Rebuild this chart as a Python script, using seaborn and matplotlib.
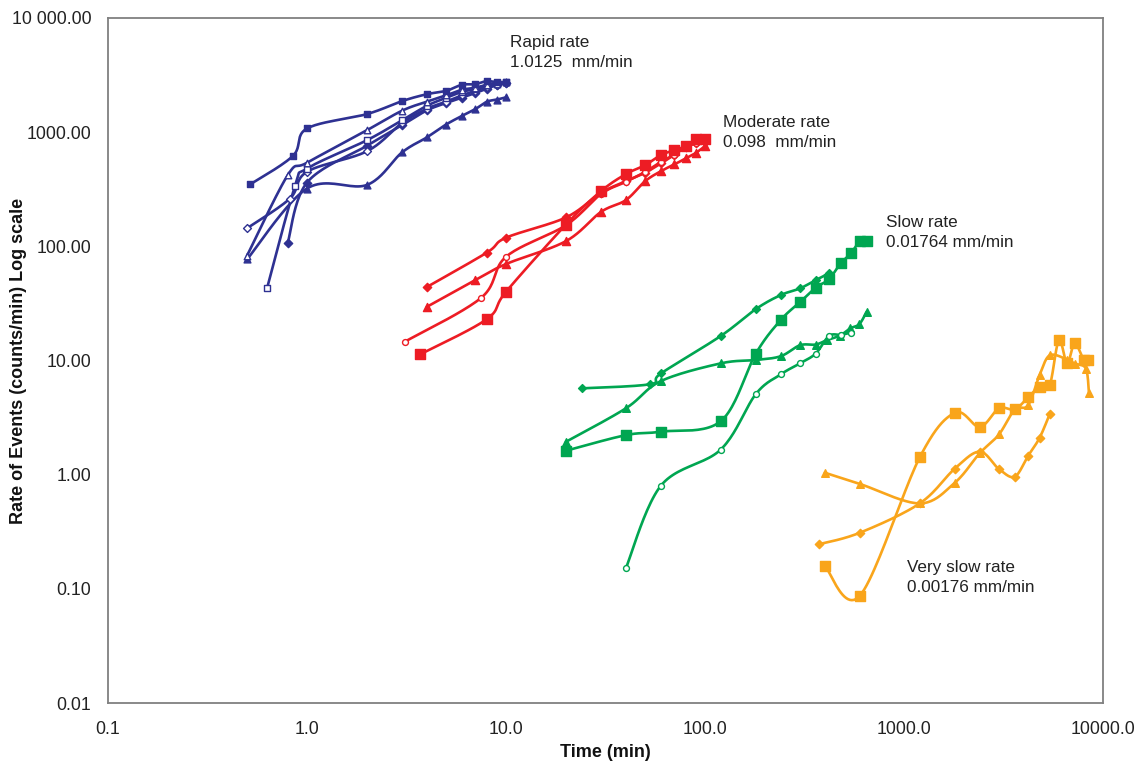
import numpy as np
import pandas as pd
import matplotlib
matplotlib.use("Agg")
import matplotlib.pyplot as plt
import seaborn as sns
from matplotlib.ticker import FixedLocator, FixedFormatter, NullLocator

# ---------------- data ----------------
# Rapid rate (blue)
b_sq_x = [0.52, 0.85, 1, 2, 3, 4, 5, 6, 7, 8, 9, 10]
b_sq_y = [350, 620, 1077, 1440, 1870, 2150, 2300, 2600, 2630, 2800, 2740, 2750]
b_otri_x = [0.5, 0.8, 1, 2, 3, 4, 5, 6, 7, 8, 9, 10]
b_otri_y = [83, 420, 540, 1040, 1540, 1850, 2100, 2350, 2450, 2600, 2650, 2760]
b_odia_x = [0.5, 0.82, 1, 2, 3, 4, 5, 6, 7, 8, 9, 10]
b_odia_y = [144, 262, 450, 680, 1200, 1600, 1850, 2100, 2300, 2500, 2600, 2700]
b_osq_x = [0.63, 0.87, 1, 2, 3, 4, 5, 6, 7, 8, 9, 10]
b_osq_y = [43, 336, 480, 850, 1270, 1700, 2000, 2250, 2400, 2600, 2700, 2750]
b_dia_x = [0.8, 1, 2, 3, 4, 5, 6, 7, 8, 9, 10]
b_dia_y = [107, 362, 760, 1150, 1550, 1800, 2000, 2200, 2400, 2600, 2700]
b_tri_x = [0.5, 1, 2, 3, 4, 5, 6, 7, 8, 9, 10]
b_tri_y = [77, 321, 345, 664, 900, 1167, 1387, 1590, 1846, 1930, 2018]

# Moderate rate (red)
r_dia_x = [4, 8, 10, 20, 30, 40, 50, 60, 70, 80, 90, 100]
r_dia_y = [44, 88, 119, 179, 294, 372, 441, 532, 629, 743, 796, 822]
r_tri_x = [4, 7, 10, 20, 30, 40, 50, 60, 70, 80, 90, 100]
r_tri_y = [29.5, 50.6, 70, 111, 200, 254, 372, 455, 521, 589, 659, 754]
r_odia_x = [3.1, 7.5, 10, 20, 30, 40, 50, 60, 70, 80, 90, 100]
r_odia_y = [14.6, 35.4, 81, 153, 287, 367, 449, 550, 635, 743, 800, 860]
r_sq_x = [3.7, 8, 10, 20, 30, 40, 50, 60, 70, 80, 90, 100]
r_sq_y = [11.3, 23, 40, 155, 304, 429, 514, 630, 695, 754, 863, 880]

# Slow rate (green)
g_dia_x = [24, 53, 60, 120, 180, 240, 300, 360, 420]
g_dia_y = [5.7, 6.2, 7.7, 16.4, 28.2, 37.4, 42.8, 50.6, 58]
g_tri_x = [20, 40, 60, 120, 180, 240, 300, 360, 410, 476, 536, 596, 649]
g_tri_y = [1.94, 3.81, 6.6, 9.44, 10.1, 10.9, 13.6, 13.8, 15.1, 16.5, 19.1, 20.8, 26.7]
g_sq_x = [20, 40, 60, 120, 180, 240, 300, 360, 420, 480, 540, 600, 650]
g_sq_y = [1.62, 2.22, 2.38, 2.94, 11.5, 22.6, 32.4, 43.4, 51.6, 70.8, 86.7, 111, 111]
g_odia_x = [40, 60, 120, 180, 240, 300, 360, 420, 480, 540]
g_odia_y = [0.151, 0.80, 1.66, 5.08, 7.55, 9.44, 11.5, 16.4, 16.8, 17.5]

# Very slow rate (orange)
o_tri_x = [400, 600, 1200, 1800, 2400, 3000, 3600, 4200, 4800, 5400, 6600, 7200, 8200, 8500]
o_tri_y = [1.04, 0.83, 0.56, 0.85, 1.54, 2.25, 3.73, 4.05, 7.45, 11.1, 10.2, 9.4, 8.5, 5.2]
o_sq_x = [400, 600, 1200, 1800, 2400, 3000, 3600, 4200, 4800, 5400, 6000, 6600, 7200, 8000, 8400]
o_sq_y = [0.159, 0.087, 1.42, 3.48, 2.62, 3.81, 3.73, 4.75, 5.89, 6.1, 15.1, 9.45, 14.1, 10.2, 10.2]
o_dia_x = [375, 600, 1200, 1800, 2400, 3000, 3600, 4200, 4800, 5400]
o_dia_y = [0.246, 0.31, 0.56, 1.13, 1.59, 1.12, 0.96, 1.46, 2.10, 3.40]

x_ticks = [0.1, 1, 10, 100, 1000, 10000]
x_tick_labels = ["0.1", "1.0", "10.0", "100.0", "1000.0", "10000.0"]
y_ticks = [0.01, 0.1, 1, 10, 100, 1000, 10000]
y_tick_labels = ["0.01", "0.10", "1.00", "10.00", "100.00", "1000.00", "10 000.00"]

group_labels = ["Rapid rate\n1.0125  mm/min", "Moderate rate\n0.098  mm/min",
                "Slow rate\n0.01764 mm/min", "Very slow rate\n0.00176 mm/min"]

# ---------------- style ----------------
BLUE, RED, GREEN, ORANGE = "#2E3192", "#ED1C24", "#00A651", "#F9A51B"
sns.set_style("white")
plt.rcParams["font.family"] = ["Liberation Sans", "DejaVu Sans"]

fig = plt.figure(figsize=(11.4, 7.69), dpi=100)
ax = fig.add_axes([108 / 1140, 1 - 703 / 769, (1103 - 108) / 1140, (703 - 18) / 769])


def smooth(xs, ys, n=24):
    """Excel-like smoothed line (Bezier through points) in log-log display space."""
    P = np.column_stack([np.log10(xs), np.log10(ys)])
    out = []
    t = np.linspace(0, 1, n)[:, None]
    for i in range(len(P) - 1):
        p0 = P[i - 1] if i > 0 else P[i]
        p1, p2 = P[i], P[i + 1]
        p3 = P[i + 2] if i + 2 < len(P) else P[i + 1]
        c1 = p1 + (p2 - p0) / 6.0
        c2 = p2 - (p3 - p1) / 6.0
        seg = (1 - t) ** 3 * p1 + 3 * (1 - t) ** 2 * t * c1 + 3 * (1 - t) * t ** 2 * c2 + t ** 3 * p2
        out.append(seg if i == 0 else seg[1:])
    c = np.vstack(out)
    return 10 ** c[:, 0], 10 ** c[:, 1]


def series(xs, ys, color, marker, size, filled=True, lw=1.9):
    cx, cy = smooth(xs, ys)
    sns.lineplot(x=cx, y=cy, sort=False, estimator=None, color=color, lw=lw, ax=ax, zorder=2)
    face = color if filled else "white"
    sns.scatterplot(x=xs, y=ys, marker=marker, s=size, color=face, edgecolor=color,
                    linewidth=1.0, ax=ax, zorder=3)


# blue
series(b_dia_x, b_dia_y, BLUE, "D", 18)
series(b_tri_x, b_tri_y, BLUE, "^", 24)
series(b_odia_x, b_odia_y, BLUE, "D", 16, filled=False)
series(b_osq_x, b_osq_y, BLUE, "s", 22, filled=False)
series(b_otri_x, b_otri_y, BLUE, "^", 22, filled=False)
series(b_sq_x, b_sq_y, BLUE, "s", 18)
# red
series(r_dia_x, r_dia_y, RED, "D", 18)
series(r_tri_x, r_tri_y, RED, "^", 34)
series(r_odia_x, r_odia_y, RED, "o", 18, filled=False)
series(r_sq_x, r_sq_y, RED, "s", 44)
# green
series(g_dia_x, g_dia_y, GREEN, "D", 16)
series(g_tri_x, g_tri_y, GREEN, "^", 30)
series(g_odia_x, g_odia_y, GREEN, "o", 18, filled=False)
series(g_sq_x, g_sq_y, GREEN, "s", 44)
# orange
series(o_dia_x, o_dia_y, ORANGE, "D", 18)
series(o_tri_x, o_tri_y, ORANGE, "^", 30)
series(o_sq_x, o_sq_y, ORANGE, "s", 44)

# ---------------- axes ----------------
ax.set_xscale("log")
ax.set_yscale("log")
ax.set_xlim(0.1, 10000)
ax.set_ylim(0.01, 10000)
ax.xaxis.set_major_locator(FixedLocator(x_ticks))
ax.xaxis.set_major_formatter(FixedFormatter(x_tick_labels))
ax.yaxis.set_major_locator(FixedLocator(y_ticks))
ax.yaxis.set_major_formatter(FixedFormatter(y_tick_labels))
ax.xaxis.set_minor_locator(NullLocator())
ax.yaxis.set_minor_locator(NullLocator())
ax.tick_params(axis="both", which="major", direction="out", length=5, width=1.2,
               color="#808080", labelcolor="#222222", labelsize=12.8, pad=7)
ax.tick_params(axis="x", pad=8)
for sp in ax.spines.values():
    sp.set_color("#808080")
    sp.set_linewidth(1.3)
    sp.set_visible(True)

lab_font = dict(weight="bold", size=13, color="#111111")
ax.set_xlabel("Time (min)", **lab_font)
ax.set_ylabel("Rate of Events (counts/min) Log scale", **lab_font)
ax.xaxis.set_label_coords(0.5, (703 - 744) / 685)
ax.yaxis.set_label_coords((27 - 108) / 995, 0.5)

# group annotations (pixel positions of the reference)
ann_pos = [(510, 35), (723, 115), (886, 215), (907, 560)]
for (px, py), txt in zip(ann_pos, group_labels):
    fig.text(px / 1140, 1 - py / 769, txt, ha="left", va="top", fontsize=12.3,
             color="#222222", linespacing=1.45)

fig.savefig("out.png", dpi=100)
